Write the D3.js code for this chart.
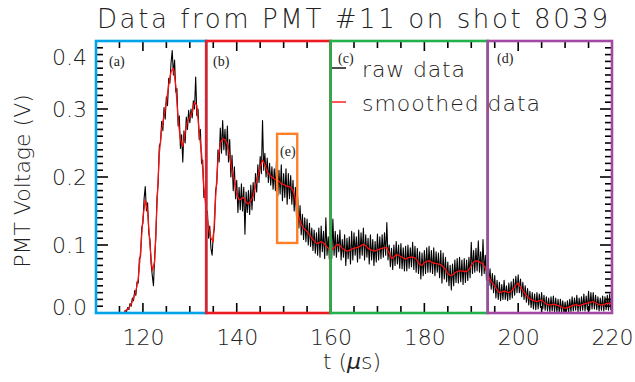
<!DOCTYPE html>
<html>
<head>
<meta charset="utf-8">
<script src="https://cdn.jsdelivr.net/npm/d3@7"></script>
<style>
  html, body { margin: 0; padding: 0; background: #fff; }
  svg { display: block; }
  .lbl { font-family: "DejaVu Sans", sans-serif; font-weight: 200; fill: #222; }
  .tag { font-family: "Liberation Serif", "Times New Roman", serif; font-size: 14px; fill: #222; }
</style>
</head>
<body>
<svg id="chart" width="635" height="382"></svg>
<script>
// PMT #11, shot 8039 — raw trace sampled every 0.25 µs, smoothed trace every 0.5 µs, both from 116 µs
const tStart = 116;
const rawStep = 0.25;
const smoothStep = 0.5;

const rawVolts = [
  0.000, 0.004, 0.002, 0.008, 0.005, 0.014, 0.010, 0.022, 0.018, 0.033, 0.026, 0.046, 0.044, 0.080, 0.083, 0.125, 0.132, 0.168, 0.186, 0.150,
  0.162, 0.118, 0.108, 0.072, 0.055, 0.040, 0.082, 0.110, 0.168, 0.192, 0.246, 0.250, 0.282, 0.268, 0.302, 0.285, 0.318, 0.305, 0.345, 0.338,
  0.368, 0.386, 0.350, 0.372, 0.325, 0.330, 0.275, 0.290, 0.242, 0.262, 0.222, 0.268, 0.250, 0.288, 0.270, 0.298, 0.280, 0.300, 0.287, 0.312,
  0.300, 0.347, 0.290, 0.300, 0.255, 0.270, 0.220, 0.225, 0.170, 0.180, 0.140, 0.150, 0.110, 0.128, 0.095, 0.085, 0.115, 0.125, 0.180, 0.190,
  0.240, 0.222, 0.272, 0.235, 0.283, 0.240, 0.270, 0.232, 0.275, 0.222, 0.255, 0.200, 0.232, 0.180, 0.215, 0.168, 0.195, 0.148, 0.185, 0.152,
  0.190, 0.150, 0.185, 0.116, 0.178, 0.148, 0.180, 0.145, 0.188, 0.152, 0.192, 0.165, 0.205, 0.178, 0.218, 0.192, 0.230, 0.205, 0.283, 0.210,
  0.235, 0.200, 0.228, 0.192, 0.220, 0.188, 0.215, 0.182, 0.212, 0.180, 0.228, 0.172, 0.210, 0.175, 0.218, 0.165, 0.205, 0.170, 0.212, 0.160,
  0.205, 0.168, 0.202, 0.160, 0.195, 0.150, 0.185, 0.140, 0.170, 0.125, 0.158, 0.115, 0.145, 0.108, 0.140, 0.105, 0.138, 0.100, 0.132, 0.098,
  0.125, 0.092, 0.122, 0.088, 0.118, 0.085, 0.125, 0.082, 0.128, 0.090, 0.120, 0.080, 0.140, 0.085, 0.112, 0.079, 0.118, 0.080, 0.138, 0.085,
  0.120, 0.082, 0.115, 0.090, 0.122, 0.078, 0.108, 0.082, 0.115, 0.070, 0.110, 0.080, 0.112, 0.072, 0.120, 0.078, 0.118, 0.085, 0.112, 0.075,
  0.122, 0.080, 0.118, 0.085, 0.125, 0.078, 0.115, 0.082, 0.110, 0.072, 0.115, 0.078, 0.108, 0.070, 0.105, 0.075, 0.116, 0.078, 0.112, 0.080,
  0.115, 0.082, 0.118, 0.085, 0.133, 0.078, 0.100, 0.068, 0.095, 0.064, 0.100, 0.070, 0.105, 0.072, 0.100, 0.066, 0.102, 0.065, 0.096, 0.062,
  0.098, 0.062, 0.100, 0.066, 0.096, 0.068, 0.104, 0.064, 0.098, 0.060, 0.095, 0.058, 0.090, 0.050, 0.088, 0.055, 0.092, 0.058, 0.096, 0.060,
  0.098, 0.060, 0.092, 0.058, 0.096, 0.055, 0.090, 0.060, 0.088, 0.052, 0.092, 0.044, 0.088, 0.050, 0.082, 0.046, 0.075, 0.040, 0.070, 0.034,
  0.072, 0.040, 0.078, 0.045, 0.080, 0.044, 0.082, 0.046, 0.078, 0.042, 0.080, 0.045, 0.078, 0.048, 0.082, 0.052, 0.104, 0.058, 0.092, 0.060,
  0.095, 0.062, 0.106, 0.060, 0.090, 0.055, 0.108, 0.058, 0.085, 0.048, 0.070, 0.040, 0.065, 0.035, 0.058, 0.030, 0.055, 0.022, 0.048, 0.020,
  0.045, 0.018, 0.042, 0.020, 0.048, 0.020, 0.040, 0.018, 0.044, 0.020, 0.046, 0.022, 0.050, 0.026, 0.054, 0.030, 0.056, 0.030, 0.050, 0.024,
  0.045, 0.020, 0.040, 0.016, 0.036, 0.012, 0.032, 0.008, 0.030, 0.006, 0.028, 0.005, 0.030, 0.006, 0.028, 0.008, 0.030, 0.006, 0.026, 0.004,
  0.024, 0.003, 0.022, 0.002, 0.024, 0.003, 0.025, 0.002, 0.022, 0.001, 0.020, 0.000, 0.020, 0.001, 0.018, 0.000, 0.016, 0.000, 0.018, 0.001,
  0.020, 0.002, 0.024, 0.003, 0.022, 0.004, 0.026, 0.002, 0.022, 0.003, 0.024, 0.004, 0.028, 0.003, 0.025, 0.005, 0.032, 0.004, 0.030, 0.006,
  0.030, 0.006, 0.026, 0.005, 0.024, 0.003, 0.022, 0.004, 0.025, 0.003, 0.024, 0.005, 0.026, 0.004, 0.028, 0.005, 0.022
];

const smoothVolts = [
  0.002, 0.004, 0.008, 0.013, 0.022, 0.032, 0.050, 0.090, 0.140, 0.166,
  0.150, 0.100, 0.062, 0.075, 0.160, 0.235, 0.270, 0.290, 0.310, 0.335,
  0.355, 0.360, 0.335, 0.285, 0.255, 0.245, 0.265, 0.282, 0.288, 0.295,
  0.310, 0.305, 0.265, 0.235, 0.185, 0.150, 0.125, 0.110, 0.105, 0.170,
  0.225, 0.250, 0.256, 0.255, 0.248, 0.230, 0.210, 0.195, 0.175, 0.166,
  0.168, 0.170, 0.163, 0.160, 0.165, 0.172, 0.188, 0.200, 0.215, 0.225,
  0.218, 0.208, 0.203, 0.200, 0.197, 0.196, 0.194, 0.190, 0.189, 0.187,
  0.186, 0.185, 0.180, 0.168, 0.148, 0.135, 0.127, 0.123, 0.120, 0.115,
  0.110, 0.106, 0.102, 0.103, 0.105, 0.103, 0.099, 0.095, 0.093, 0.094,
  0.098, 0.101, 0.099, 0.095, 0.093, 0.091, 0.092, 0.094, 0.095, 0.096,
  0.097, 0.099, 0.101, 0.099, 0.095, 0.093, 0.092, 0.091, 0.093, 0.094,
  0.095, 0.096, 0.096, 0.088, 0.080, 0.082, 0.086, 0.085, 0.083, 0.081,
  0.079, 0.081, 0.082, 0.082, 0.081, 0.077, 0.071, 0.070, 0.074, 0.076,
  0.077, 0.075, 0.073, 0.073, 0.072, 0.071, 0.068, 0.064, 0.058, 0.055,
  0.056, 0.059, 0.061, 0.062, 0.062, 0.061, 0.061, 0.064, 0.070, 0.075,
  0.077, 0.076, 0.074, 0.072, 0.066, 0.058, 0.049, 0.044, 0.040, 0.034,
  0.030, 0.031, 0.032, 0.031, 0.030, 0.032, 0.036, 0.041, 0.044, 0.038,
  0.033, 0.028, 0.024, 0.021, 0.019, 0.018, 0.017, 0.018, 0.019, 0.016,
  0.013, 0.012, 0.012, 0.013, 0.012, 0.011, 0.010, 0.008, 0.007, 0.008,
  0.009, 0.011, 0.012, 0.012, 0.011, 0.012, 0.013, 0.014, 0.015, 0.016,
  0.017, 0.015, 0.013, 0.012, 0.012, 0.013, 0.014, 0.014, 0.013
];

// Time windows (a)–(d) and the zoomed window (e)
const phaseLabels = ["(a)", "(b)", "(c)", "(d)"];
const phaseStarts = [110, 133.5, 160, 193.5];
const phaseEnds   = [133.5, 160, 193.5, 220];
const phaseColors = ["#00a2e8", "#ed1c24", "#22b14c", "#a349a4"];
const windowE = { t0: 148.6, t1: 152.9, v0: 0.103, v1: 0.2635, label: "(e)" };

const xMajor = [120, 140, 160, 180, 200, 220];
const yMajor = [0.0, 0.1, 0.2, 0.3, 0.4];

const titleText = "Data from PMT #11 on shot 8039";
const legendNames = ["raw data", "smoothed data"];

// ---------------------------------------------------------------
const svg = d3.select("#chart");
const plotLeft = 96, plotRight = 612, plotTop = 41, plotBottom = 313;

const x = d3.scaleLinear().domain([110, 220]).range([plotLeft, plotRight]);
const y = d3.scaleLinear().domain([0, 0.4]).range([plotBottom, plotTop]);

const rawPts = rawVolts.map((v, i) => [tStart + i * rawStep, v]);
const smoothPts = smoothVolts.map((v, i) => [tStart + i * smoothStep, v]);

const line = d3.line().x(d => x(d[0])).y(d => y(d[1]));

// inward tick combs on all four sides, placed with the scales
const xMinor = d3.range(110, 220.01, 5);
const yMinor = d3.range(0, 0.4001, 0.01);
const isXMajor = t => xMajor.some(m => Math.abs(m - t) < 1e-6);
const isYMajor = v => yMajor.some(m => Math.abs(m - v) < 1e-6);

const ticks = svg.append("g").attr("stroke", "#000").attr("stroke-width", 1.6);
[plotBottom, plotTop].forEach((edge, k) => {
  const dir = k === 0 ? -1 : 1;
  ticks.append("g").selectAll("line").data(xMinor).join("line")
    .attr("x1", d => x(d)).attr("x2", d => x(d))
    .attr("y1", edge).attr("y2", d => edge + dir * (isXMajor(d) ? 10 : 7));
});
[plotLeft, plotRight].forEach((edge, k) => {
  const dir = k === 0 ? 1 : -1;
  ticks.append("g").selectAll("line").data(yMinor).join("line")
    .attr("y1", d => y(d)).attr("y2", d => y(d))
    .attr("x1", edge).attr("x2", d => edge + dir * (isYMajor(d) ? 12 : 7));
});

// tick labels
svg.append("g").attr("transform", `translate(0,${plotBottom})`)
  .call(d3.axisBottom(x).tickValues(xMajor).tickSize(0).tickPadding(16).tickFormat(d3.format("d")))
  .call(g => g.select(".domain").remove())
  .call(g => g.selectAll("text").attr("class", "lbl").style("font-size", "22px").attr("fill", "#222"));
svg.append("g").attr("transform", `translate(${plotLeft},0)`)
  .call(d3.axisLeft(y).tickValues(yMajor).tickSize(0).tickPadding(9).tickFormat(d3.format(".1f")))
  .call(g => g.select(".domain").remove())
  .call(g => g.selectAll("text").attr("class", "lbl").style("font-size", "22px").attr("fill", "#222")
    .attr("dy", d => d >= 0.4 ? "1.05em" : (d <= 0 ? "0.07em" : "0.32em")));

// traces
svg.append("path").datum(rawPts)
  .attr("d", line).attr("fill", "none")
  .attr("stroke", "#000").attr("stroke-width", 1.1).attr("stroke-linejoin", "round");
svg.append("path").datum(smoothPts)
  .attr("d", line).attr("fill", "none")
  .attr("stroke", "#ff1010").attr("stroke-width", 1.3).attr("stroke-linejoin", "round");

// coloured phase windows
phaseStarts.forEach((t0, i) => {
  svg.append("rect")
    .attr("x", x(t0)).attr("y", y(0.4))
    .attr("width", x(phaseEnds[i]) - x(t0)).attr("height", y(0) - y(0.4))
    .attr("fill", "none").attr("stroke", phaseColors[i]).attr("stroke-width", 2.6);
});
svg.append("rect")
  .attr("x", x(windowE.t0)).attr("y", y(windowE.v1))
  .attr("width", x(windowE.t1) - x(windowE.t0)).attr("height", y(windowE.v0) - y(windowE.v1))
  .attr("fill", "none").attr("stroke", "#ff7f27").attr("stroke-width", 2.4);

// window tags
const tagPos = [[109, 66], [213, 66], [338, 63], [497, 63]];
phaseLabels.forEach((s, i) => {
  svg.append("text").attr("class", "tag").attr("x", tagPos[i][0]).attr("y", tagPos[i][1]).text(s);
});
svg.append("text").attr("class", "tag").attr("x", 280).attr("y", 156).text(windowE.label);

// legend
const legendColors = ["#000", "#ff1010"];
const legendY = [68, 102];
const legendWidths = [103, 178];
legendNames.forEach((name, i) => {
  svg.append("line")
    .attr("x1", 332).attr("x2", 346).attr("y1", legendY[i]).attr("y2", legendY[i])
    .attr("stroke", legendColors[i]).attr("stroke-width", 1.4);
  svg.append("text").attr("class", "lbl")
    .attr("x", 362).attr("y", legendY[i] + 9)
    .style("font-size", "22px")
    .attr("textLength", legendWidths[i]).attr("lengthAdjust", "spacing")
    .attr("fill", i === 0 ? "#222" : "#ff1010")
    .text(name);
});

// title and axis titles
svg.append("text").attr("class", "lbl")
  .attr("x", 97).attr("y", 28)
  .style("font-size", "26px")
  .attr("textLength", 511).attr("lengthAdjust", "spacing")
  .text(titleText);

const xt = svg.append("text").attr("class", "lbl")
  .attr("x", 352).attr("y", 369).attr("text-anchor", "middle")
  .style("font-size", "22px");
xt.append("tspan").text("t (");
xt.append("tspan").style("font-style", "italic").text("\u03bc");
xt.append("tspan").text("s)");

svg.append("text").attr("class", "lbl")
  .attr("transform", "translate(30,181) rotate(-90)")
  .attr("text-anchor", "middle")
  .style("font-size", "22px")
  .text("PMT Voltage (V)");
</script>
</body>
</html>
